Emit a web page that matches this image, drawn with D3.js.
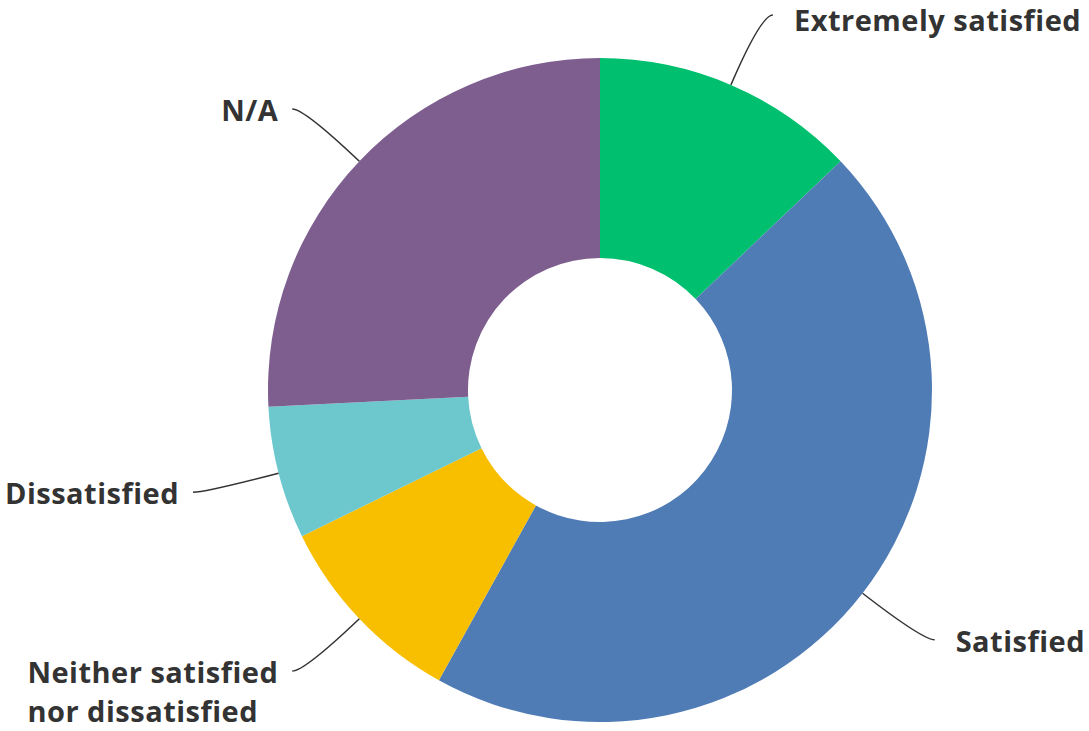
<!DOCTYPE html>
<html>
<head>
<meta charset="utf-8">
<script src="https://cdn.jsdelivr.net/npm/d3@7"></script>
<style>
  html, body { margin: 0; padding: 0; background: #fff; }
  svg { display: block; }
  .label { font-family: "Open Sans", "Noto Sans", sans-serif; font-weight: 700; font-size: 29px; letter-spacing: 0.5px; fill: #333; }
  .leader { fill: none; stroke: #333; stroke-width: 1.5; }
</style>
</head>
<body>
<svg id="chart" width="1089" height="731"></svg>
<script>
// Survey responses (counts per answer)
const categories = ["Extremely satisfied", "Satisfied", "Neither satisfied\nnor dissatisfied", "Dissatisfied", "N/A"];
const counts = [4, 14, 3, 2, 8];
const colors = ["#00BF6F", "#507CB6", "#F8BE00", "#6CC8CD", "#7D5E8F"];

const width = 1089, height = 731;
const cx = 600, cy = 390;
const outerR = 332, innerR = 132;

const svg = d3.select("#chart");
const g = svg.append("g").attr("transform", `translate(${cx},${cy})`);

const data = categories.map((c, i) => ({ label: c, value: counts[i], color: colors[i] }));

const pie = d3.pie().value(d => d.value).sort(null);
const arcs = pie(data);

const arc = d3.arc().innerRadius(innerR).outerRadius(outerR);

g.selectAll("path.slice")
  .data(arcs)
  .join("path")
  .attr("class", "slice")
  .attr("d", arc)
  .attr("fill", d => d.data.color);

// Leader lines: leave the rim radially, bend, then run horizontally to the label
const elbowLen = 76, tail = 12;
const minBaseline = 31 - cy; // keep the top label's ascent inside the canvas
arcs.forEach(a => {
  const mid = (a.startAngle + a.endAngle) / 2;
  const sx = Math.sin(mid), sy = -Math.cos(mid);
  const p0 = [outerR * sx, outerR * sy];
  const p1 = [(outerR + elbowLen) * sx, (outerR + elbowLen) * sy];
  const side = sx >= 0 ? 1 : -1;
  const p2 = [p1[0] + side * tail, p1[1]];

  const path = d3.path();
  path.moveTo(p0[0], p0[1]);
  path.quadraticCurveTo(p1[0], p1[1], p2[0], p2[1]);
  g.append("path").attr("class", "leader").attr("d", path.toString());

  const lines = a.data.label.split("\n");
  const gap = side > 0 ? 21 : 14;
  const text = g.append("text")
    .attr("class", "label")
    .attr("y", Math.max(p2[1] + 12, minBaseline));
  lines.forEach((ln, i) => {
    text.append("tspan").attr("dy", i === 0 ? 0 : 39).text(ln);
  });
  // Left-aligned block placed so its widest line ends near the leader
  const tspans = text.selectAll("tspan").nodes();
  const maxW = d3.max(tspans, n => n.getComputedTextLength());
  const x0 = side > 0 ? p2[0] + gap : p2[0] - gap - maxW;
  text.selectAll("tspan").attr("x", x0);
});
</script>
</body>
</html>
